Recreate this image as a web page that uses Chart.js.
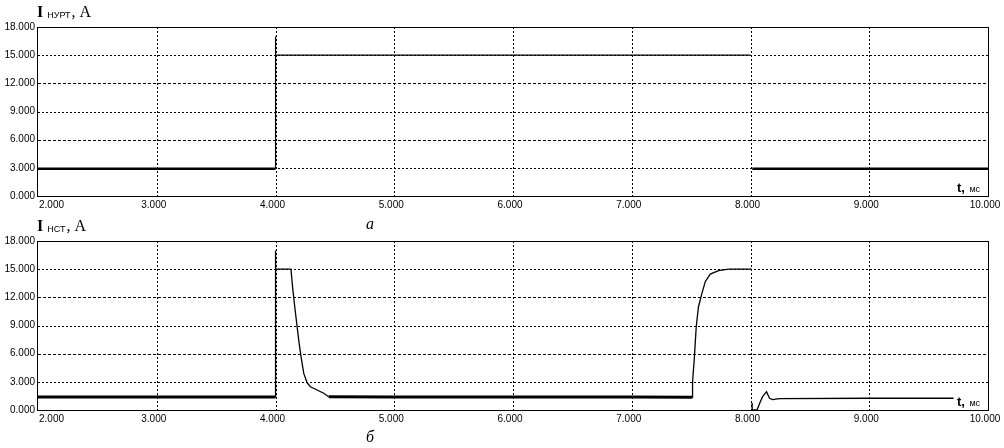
<!DOCTYPE html>
<html>
<head>
<meta charset="utf-8">
<script src="https://cdn.jsdelivr.net/npm/chart.js@4.4.1/dist/chart.umd.min.js"></script>
<style>
  body { margin: 0; background: #fff; width: 1004px; height: 448px; overflow: hidden; position: relative; }
  canvas { position: absolute; left: 0; }
  .title { position: absolute; left: 37px; font-family: 'Liberation Serif', serif; font-size: 16px; line-height: 16px; color: #000; white-space: nowrap; }
  .title b { font-weight: bold; }
  .title .sub { font-family: 'Liberation Sans', sans-serif; font-size: 9px; margin: 0 1px 0 4px; position: relative; top: 1px; }
  .tlab { position: absolute; left: 957px; font-family: 'Liberation Sans', sans-serif; color: #000; white-space: nowrap; line-height: 14px; }
  .tlab .t { font-weight: bold; font-size: 13px; }
  .tlab .u { font-size: 9px; }
  .cap { position: absolute; left: 366px; font-family: 'Liberation Serif', serif; font-style: italic; font-size: 16px; line-height: 16px; color: #000; }
</style>
</head>
<body>
<canvas id="chartUrt" width="1004" height="214" style="top:0"></canvas>
<canvas id="chartNst" width="1004" height="214" style="top:214px"></canvas>

<div class="title" style="top:4px"><b>I</b><span class="sub">НУРТ</span>, A</div>
<div class="title" style="top:218px"><b>I</b><span class="sub">НСТ</span>, A</div>
<div class="tlab" style="top:180px"><span class="t">t,</span> <span class="u">мс</span></div>
<div class="tlab" style="top:394px"><span class="t">t,</span> <span class="u">мс</span></div>
<div class="cap" style="top:216px">а</div>
<div class="cap" style="top:429px">б</div>

<script>
// ---- data (t in ms, current in A) ----
const xTicks = [2000, 3000, 4000, 5000, 6000, 7000, 8000, 9000, 10000];
const yTicks = [0, 3000, 6000, 9000, 12000, 15000, 18000];

// (a) I_НУРТ
const tUrt = [2000, 4000, 4000, 4001, 8000, 8000, 8015, 10000];
const iUrt = [2900, 2900, 17000, 15000, 15000, null, 2900, 2900];

// (б) I_НСТ
const tNst = [2000, 4000, 4000, 4001, 4130, 4145, 4162, 4182, 4199, 4215, 4238, 4266, 4294, 4350, 4406, 4448,
  5000, 6000, 7000, 7510, 7512, 7526, 7543, 7562, 7591, 7619, 7661, 7731, 7815, 8010,
  8011, 8013, 8014, 8055, 8080, 8102, 8135, 8160, 8186, 8242, 9000, 9710];
const iNst = [1380, 1380, 17000, 15000, 15000, 12960, 11000, 8870, 7100, 5680, 3900, 2910, 2480, 2130, 1780, 1420,
  1380, 1380, 1380, 1350, 3010, 5320, 8870, 11000, 12430, 13670, 14480, 14840, 15000, 15000,
  null, 750, 0, 0, 800, 1420, 1950, 1240, 1100, 1220, 1250, 1250];

const fmt = v => (v / 1000).toFixed(3);

// grid lines with alternating dash, frame and x labels, like the scope printout
const scopeGrid = {
  id: 'scopeGrid',
  beforeDatasetsDraw(chart) {
    const { ctx, chartArea: a, scales: { x, y } } = chart;
    ctx.save();
    ctx.strokeStyle = '#000';
    ctx.lineWidth = 1;
    y.ticks.forEach(t => {
      if (t.value <= y.min || t.value >= y.max) return;
      const py = Math.round(y.getPixelForValue(t.value)) + 0.5;
      ctx.setLineDash((t.value / 3000) % 2 ? [2, 2] : [3, 2]);
      ctx.beginPath(); ctx.moveTo(a.left, py); ctx.lineTo(a.right, py); ctx.stroke();
    });
    ctx.setLineDash([2, 2]);
    x.ticks.forEach(t => {
      if (t.value <= x.min || t.value >= x.max) return;
      const px = Math.round(x.getPixelForValue(t.value)) + 0.5;
      ctx.beginPath(); ctx.moveTo(px, a.top); ctx.lineTo(px, a.bottom); ctx.stroke();
    });
    ctx.restore();
  },
  afterDatasetsDraw(chart) {
    const { ctx, chartArea: a, scales: { x } } = chart;
    ctx.save();
    ctx.strokeStyle = '#000';
    ctx.lineWidth = 1;
    ctx.strokeRect(Math.round(a.left) - 0.5, Math.round(a.top) + 0.5, Math.round(a.right - a.left) + 1, Math.round(a.bottom - a.top));
    ctx.fillStyle = '#000';
    ctx.font = '10px "Liberation Sans", Arial, sans-serif';
    ctx.textBaseline = 'middle';
    x.ticks.forEach((t, i) => {
      const px = x.getPixelForValue(t.value);
      if (i === 0) { ctx.textAlign = 'left'; ctx.fillText(fmt(t.value), px + 1, a.bottom + 9); }
      else { ctx.textAlign = 'center'; ctx.fillText(fmt(t.value), px - 3, a.bottom + 9); }
    });
    ctx.restore();
  }
};

function makeScope(id, tArr, iArr, thick) {
  new Chart(document.getElementById(id), {
    type: 'line',
    data: {
      datasets: [{
        data: tArr.map((t, i) => ({ x: t, y: iArr[i] })),
        borderColor: '#000',
        borderWidth: 1.2,
        pointRadius: 0,
        tension: 0,
        spanGaps: false,
        segment: { borderWidth: thick }
      }]
    },
    options: {
      responsive: false,
      animation: false,
      devicePixelRatio: 1,
      layout: { padding: { top: 27, right: 16, bottom: 18, left: 0 } },
      plugins: { legend: { display: false }, tooltip: { enabled: false } },
      scales: {
        x: {
          type: 'linear', min: xTicks[0], max: xTicks[xTicks.length - 1],
          afterBuildTicks: s => { s.ticks = xTicks.map(v => ({ value: v })); },
          afterFit: s => { s.height = 0; },
          ticks: { display: false },
          grid: { display: false, drawTicks: false },
          border: { display: false }
        },
        y: {
          min: yTicks[0], max: yTicks[yTicks.length - 1],
          afterBuildTicks: s => { s.ticks = yTicks.map(v => ({ value: v })); },
          afterFit: s => { s.width = 38; },
          ticks: { color: '#000', padding: 3, font: { size: 10, family: '"Liberation Sans", Arial, sans-serif' }, callback: v => fmt(v) },
          grid: { display: false, drawTicks: false },
          border: { display: false }
        }
      }
    },
    plugins: [scopeGrid]
  });
}

makeScope('chartUrt', tUrt, iUrt, c => Math.max(c.p0.parsed.y, c.p1.parsed.y) < 3200 ? 2.5 : 1.2);
makeScope('chartNst', tNst, iNst, c => Math.max(c.p0.parsed.y, c.p1.parsed.y) < 1500 && c.p0.parsed.x < 7600 ? 3 : 1.3);
</script>
</body>
</html>
